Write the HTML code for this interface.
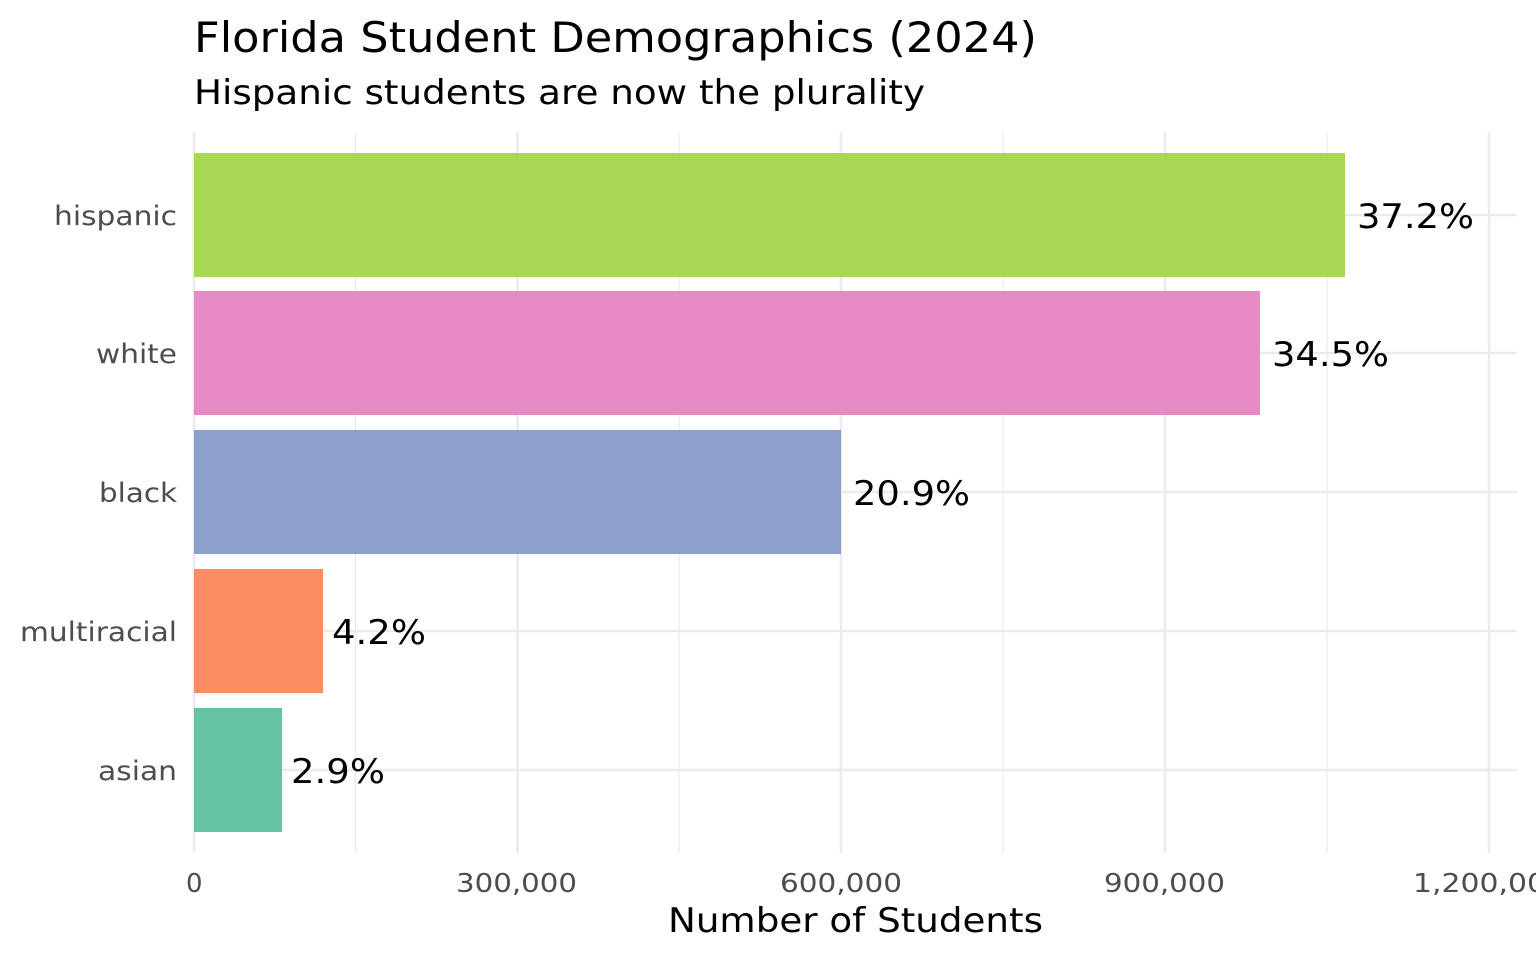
<!DOCTYPE html>
<html><head><meta charset="utf-8"><style>
html,body{margin:0;padding:0;background:#fff;}
svg{display:block;}
text{font-family:"DejaVu Sans","Liberation Sans",sans-serif;}
</style></head><body>
<svg width="1536" height="960" viewBox="0 0 1536 960" xmlns="http://www.w3.org/2000/svg">
<rect width="1536" height="960" fill="#fff"/>
<g stroke="#ebebeb" stroke-width="1.2">
<line x1="355.6" y1="132" x2="355.6" y2="853"/>
<line x1="679" y1="132" x2="679" y2="853"/>
<line x1="1003" y1="132" x2="1003" y2="853"/>
<line x1="1327" y1="132" x2="1327" y2="853"/>
</g>
<g stroke="#ebebeb" stroke-width="2.6">
<line x1="194" y1="132" x2="194" y2="853"/>
<line x1="517.5" y1="132" x2="517.5" y2="853"/>
<line x1="841" y1="132" x2="841" y2="853"/>
<line x1="1165" y1="132" x2="1165" y2="853"/>
<line x1="1489" y1="132" x2="1489" y2="853"/>
<line x1="194" y1="215" x2="1517" y2="215"/>
<line x1="194" y1="353" x2="1517" y2="353"/>
<line x1="194" y1="492" x2="1517" y2="492"/>
<line x1="194" y1="631" x2="1517" y2="631"/>
<line x1="194" y1="770" x2="1517" y2="770"/>
</g>
<rect x="194" y="153" width="1151" height="124" fill="#A6D854"/>
<rect x="194" y="291" width="1066" height="124" fill="#E78AC3"/>
<rect x="194" y="430" width="647" height="124" fill="#8DA0CB"/>
<rect x="194" y="569" width="129" height="124" fill="#FC8D62"/>
<rect x="194" y="708" width="88" height="124" fill="#66C2A5"/>
<g font-size="34" fill="#000" lengthAdjust="spacingAndGlyphs">
<text x="1357" y="228" textLength="117" lengthAdjust="spacingAndGlyphs">37.2%</text>
<text x="1272" y="366" textLength="117" lengthAdjust="spacingAndGlyphs">34.5%</text>
<text x="853" y="505" textLength="117" lengthAdjust="spacingAndGlyphs">20.9%</text>
<text x="332" y="644" textLength="94" lengthAdjust="spacingAndGlyphs">4.2%</text>
<text x="291" y="783" textLength="94" lengthAdjust="spacingAndGlyphs">2.9%</text>
</g>
<g font-size="27" fill="#4d4d4d">
<text x="54" y="225" textLength="123" lengthAdjust="spacingAndGlyphs">hispanic</text>
<text x="96" y="363" textLength="81" lengthAdjust="spacingAndGlyphs">white</text>
<text x="99" y="502" textLength="78" lengthAdjust="spacingAndGlyphs">black</text>
<text x="20" y="641" textLength="157" lengthAdjust="spacingAndGlyphs">multiracial</text>
<text x="98" y="780" textLength="79" lengthAdjust="spacingAndGlyphs">asian</text>
</g>
<g font-size="26" fill="#4d4d4d">
<text x="186" y="892">0</text>
<text x="456" y="892" textLength="121" lengthAdjust="spacingAndGlyphs">300,000</text>
<text x="780" y="892" textLength="122" lengthAdjust="spacingAndGlyphs">600,000</text>
<text x="1104" y="892" textLength="121" lengthAdjust="spacingAndGlyphs">900,000</text>
<text x="1413" y="892" textLength="152" lengthAdjust="spacingAndGlyphs">1,200,000</text>
</g>
<text x="668" y="932" font-size="34" fill="#000" textLength="375" lengthAdjust="spacingAndGlyphs">Number of Students</text>
<text x="194" y="52" font-size="42" fill="#000" textLength="843" lengthAdjust="spacingAndGlyphs">Florida Student Demographics (2024)</text>
<text x="194" y="104" font-size="34" fill="#000" textLength="731" lengthAdjust="spacingAndGlyphs">Hispanic students are now the plurality</text>
</svg>
</body></html>
